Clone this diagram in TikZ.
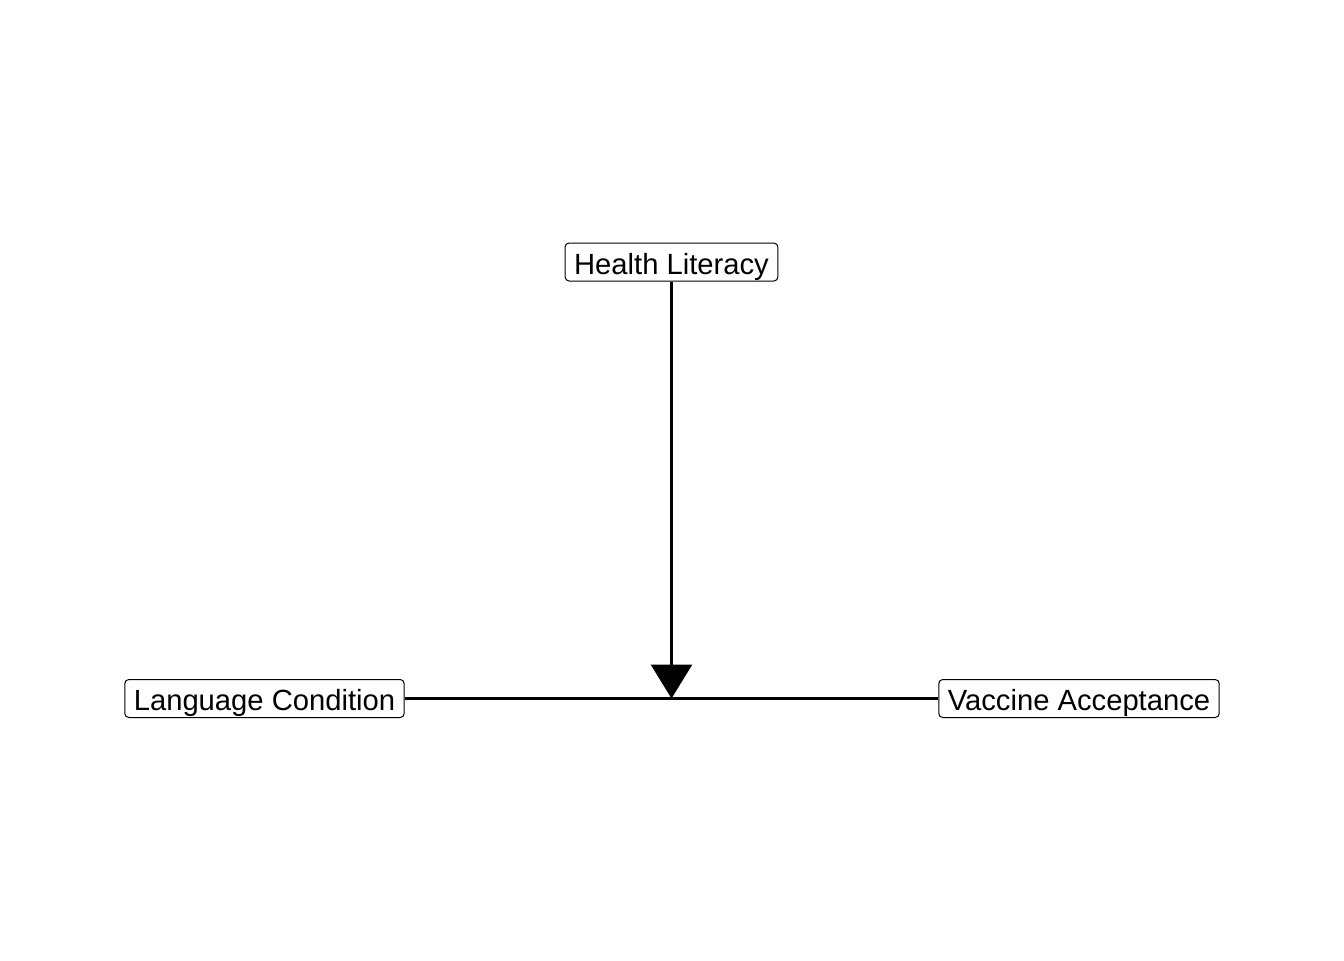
\documentclass[tikz,border=0pt]{standalone}
\usepackage{fontspec}
\setmainfont{Liberation Sans}
\usetikzlibrary{arrows.meta,positioning}

\begin{document}
\begin{tikzpicture}[
x=0.5pt, y=-0.5pt,
    V/.style = {rectangle, draw, rounded corners=2pt,% styles of variable nodes
                line width=0.5pt, inner xsep=4.5pt, inner ysep=0pt,
                minimum height=19pt, text height=12pt, text depth=0pt,
                fill=white, font=\fontsize{14.6}{17}\selectfont},
    E/.style = {line width=1.5pt},
    M/.style = {E, -{Triangle[width=20.5pt,length=17pt]}},
                        ]
\useasboundingbox (0,0) rectangle (1344,960);
\node[V] (hl)   at (671.5,262)  {Health Literacy};
\node[V] (lang) at (264.5,698.5) {Language Condition};
\node[V] (vacc) at (1079,698.5) {Vaccine Acceptance};
\coordinate (mid) at (hl |- lang.east);
\draw[E] (lang) -- (vacc);
\draw[M] (hl) -- (mid);% moderation onto the path
\end{tikzpicture}
\end{document}
